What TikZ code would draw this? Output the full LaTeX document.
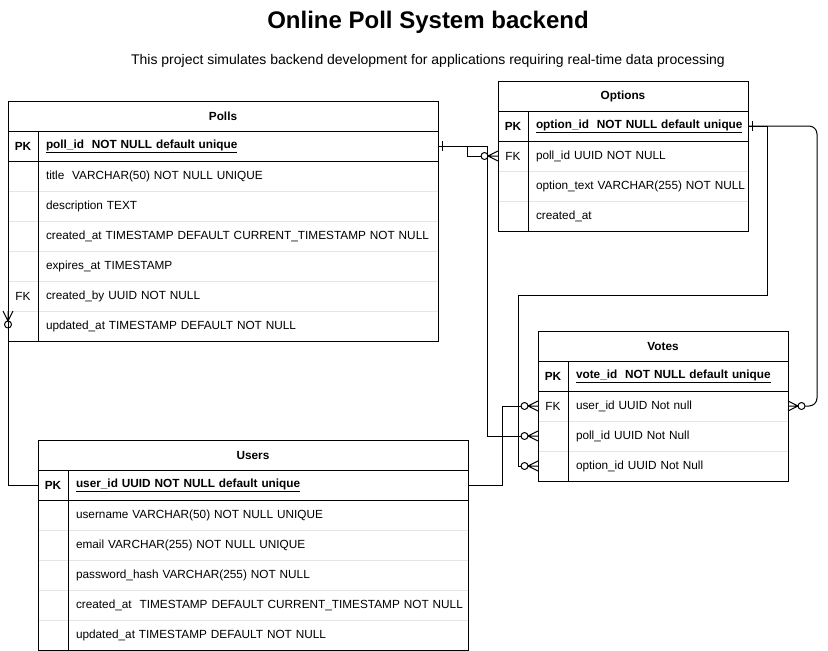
\documentclass[tikz,border=0pt]{standalone}
\usepackage{fontspec}
\setmainfont{Liberation Sans}
\usetikzlibrary{positioning,arrows.meta}

% bar for the one side of a relation
\pgfdeclarearrow{
  name = onebar,
  setup code = {
    \pgfarrowssettipend{0pt}
    \pgfarrowssetlineend{0pt}
    \pgfarrowssetbackend{-4pt}
    \pgfarrowshullpoint{0pt}{5pt}
    \pgfarrowshullpoint{0pt}{-5pt}
  },
  drawing code = {
    \pgfpathmoveto{\pgfpoint{-4pt}{5pt}}
    \pgfpathlineto{\pgfpoint{-4pt}{-5pt}}
    \pgfusepathqstroke
  }
}
% circle and crow foot for zero or many
\pgfdeclarearrow{
  name = zmany,
  setup code = {
    \pgfarrowssettipend{0pt}
    \pgfarrowssetlineend{-17pt}
    \pgfarrowssetbackend{-17pt}
    \pgfarrowshullpoint{0pt}{5pt}
    \pgfarrowshullpoint{0pt}{-5pt}
    \pgfarrowshullpoint{-17pt}{0pt}
  },
  drawing code = {
    \pgfsetroundjoin
    \pgfpathmoveto{\pgfpoint{0pt}{5pt}}
    \pgfpathlineto{\pgfpoint{-10pt}{0pt}}
    \pgfpathlineto{\pgfpoint{0pt}{-5pt}}
    \pgfpathmoveto{\pgfpoint{0pt}{0pt}}
    \pgfpathlineto{\pgfpoint{-10pt}{0pt}}
    \pgfpathcircle{\pgfpoint{-13.5pt}{0pt}}{3.5pt}
    \pgfusepathqstroke
  }
}

\begin{document}
\begin{tikzpicture}[x=1pt,y=-1pt,line width=1pt,outer sep=0pt,
    font=\fontsize{11.8}{14}\selectfont,
    tabhead/.style={minimum height=30pt,inner sep=0pt,font=\fontsize{11.8}{14}\selectfont\bfseries},
    field/.style={minimum height=30pt,inner xsep=8pt,inner ysep=0pt,text width=#1,align=left,
      execute at begin node=\hbox\bgroup,execute at end node=\egroup},
    keycell/.style={minimum width=30pt,minimum height=30pt,inner sep=0pt},
    rowline/.style={draw=gray!20}]
  \useasboundingbox (0,0) rectangle (828,651);

  \node[font=\fontsize{24}{28}\selectfont\bfseries] (title) at (428,22) {Online Poll System backend};
  \node[font=\fontsize{14}{17}\selectfont] (subtitle) at (428,61) {This project simulates backend development for applications requiring real-time data processing};

  % Polls
  \node[tabhead,minimum width=430pt] (polls) at (223,116) {Polls};
  \node[field=384pt,below left=0pt and 0pt of polls.south east] (p1) {\textbf{\underline{poll\_id\ \ NOT NULL default unique}}};
  \node[field=384pt,below=0pt of p1] (p2) {title\ \ VARCHAR(50) NOT NULL UNIQUE};
  \node[field=384pt,below=0pt of p2] (p3) {description TEXT};
  \node[field=384pt,below=0pt of p3] (p4) {created\_at TIMESTAMP DEFAULT CURRENT\_TIMESTAMP NOT NULL};
  \node[field=384pt,below=0pt of p4] (p5) {expires\_at TIMESTAMP};
  \node[field=384pt,below=0pt of p5] (p6) {created\_by UUID NOT NULL};
  \node[field=384pt,below=0pt of p6] (p7) {updated\_at TIMESTAMP DEFAULT NOT NULL};
  \node[keycell,left=0pt of p1] (pk1) {\textbf{PK}};
  \node[keycell,left=0pt of p6] (pk6) {FK};
  \foreach \r in {2,...,6}
    \draw[rowline] (polls.west |- p\r.south) -- (p\r.south east);
  \draw (polls.north west) rectangle (p7.south east);
  \draw (polls.south west) -- (polls.south east);
  \draw (polls.west |- p1.south) -- (p1.south east);
  \draw (p1.north west) -- (p7.south west);

  % Options
  \node[tabhead,minimum width=250pt] (options) at (623,96) {Options};
  \node[field=204pt,below left=0pt and 0pt of options.south east] (o1) {\textbf{\underline{option\_id\ \ NOT NULL default unique}}};
  \node[field=204pt,below=0pt of o1] (o2) {poll\_id UUID NOT NULL};
  \node[field=204pt,below=0pt of o2] (o3) {option\_text VARCHAR(255) NOT NULL};
  \node[field=204pt,below=0pt of o3] (o4) {created\_at};
  \node[keycell,left=0pt of o1] (ok1) {\textbf{PK}};
  \node[keycell,left=0pt of o2] (ok2) {FK};
  \foreach \r in {2,3}
    \draw[rowline] (options.west |- o\r.south) -- (o\r.south east);
  \draw (options.north west) rectangle (o4.south east);
  \draw (options.south west) -- (options.south east);
  \draw (options.west |- o1.south) -- (o1.south east);
  \draw (o1.north west) -- (o4.south west);

  % Votes
  \node[tabhead,minimum width=250pt] (votes) at (663,346) {Votes};
  \node[field=204pt,below left=0pt and 0pt of votes.south east] (v1) {\textbf{\underline{vote\_id\ \ NOT NULL default unique}}};
  \node[field=204pt,below=0pt of v1] (v2) {user\_id UUID Not null};
  \node[field=204pt,below=0pt of v2] (v3) {poll\_id UUID Not Null};
  \node[field=204pt,below=0pt of v3] (v4) {option\_id UUID Not Null};
  \node[keycell,left=0pt of v1] (vk1) {\textbf{PK}};
  \node[keycell,left=0pt of v2] (vk2) {FK};
  \foreach \r in {2,3}
    \draw[rowline] (votes.west |- v\r.south) -- (v\r.south east);
  \draw (votes.north west) rectangle (v4.south east);
  \draw (votes.south west) -- (votes.south east);
  \draw (votes.west |- v1.south) -- (v1.south east);
  \draw (v1.north west) -- (v4.south west);

  % Users
  \node[tabhead,minimum width=430pt] (users) at (253,455) {Users};
  \node[field=384pt,below left=0pt and 0pt of users.south east] (u1) {\textbf{\underline{user\_id UUID NOT NULL default unique}}};
  \node[field=384pt,below=0pt of u1] (u2) {username VARCHAR(50) NOT NULL UNIQUE};
  \node[field=384pt,below=0pt of u2] (u3) {email VARCHAR(255) NOT NULL UNIQUE};
  \node[field=384pt,below=0pt of u3] (u4) {password\_hash VARCHAR(255) NOT NULL};
  \node[field=384pt,below=0pt of u4] (u5) {created\_at\ \ TIMESTAMP DEFAULT CURRENT\_TIMESTAMP NOT NULL};
  \node[field=384pt,below=0pt of u5] (u6) {updated\_at TIMESTAMP DEFAULT NOT NULL};
  \node[keycell,left=0pt of u1] (uk1) {\textbf{PK}};
  \foreach \r in {2,...,5}
    \draw[rowline] (users.west |- u\r.south) -- (u\r.south east);
  \draw (users.north west) rectangle (u6.south east);
  \draw (users.south west) -- (users.south east);
  \draw (users.west |- u1.south) -- (u1.south east);
  \draw (u1.north west) -- (u6.south west);

  % relations
  \draw[{onebar}-{zmany}] (p1.east) -- ++(29,0) |- (options.west |- o2);
  \draw[{onebar}-{zmany}] (p1.east) -- ++(49,0) |- (votes.west |- v3);
  \draw[{onebar}-{zmany}] (o1.east) -- ++(19,0) -- ++(0,169) -- ++(-249,0) |- (votes.west |- v4);
  \draw[{onebar}-{zmany},rounded corners=8pt] (o1.east) -- ++(69,0) |- (votes.east |- v2);
  \draw[-{zmany}] (u1.east) -- ++(34,0) |- (votes.west |- v2);
  \draw[-{zmany}] (users.west |- u1) -| (polls.west |- p6.south);
\end{tikzpicture}
\end{document}
